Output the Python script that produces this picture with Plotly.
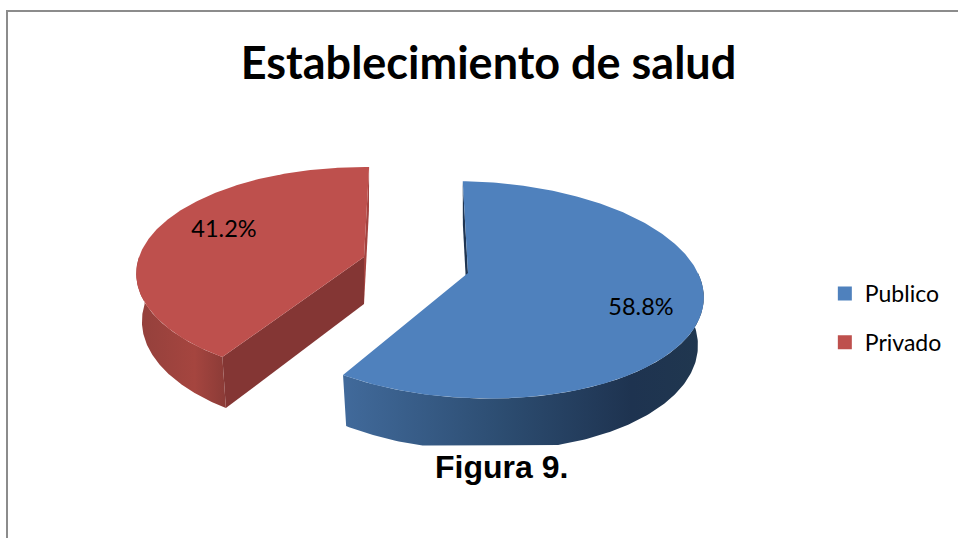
import numpy as np
import plotly.graph_objects as go

categories = ["Publico", "Privado"]
values = [58.8, 41.2]
labels = ["58.8%", "41.2%"]
title_text = "Establecimiento de salud"
caption_text = "Figura 9."

W, H = 958, 538
BLUE, RED = "#4F81BD", "#BE504D"
K = 0.156   # perspective of the pie disc
DEPTH, SX, SY = 47.0, 0.975, 1.04
CLIP_Y = 445.5
START = 1.5

slices = [
    dict(tip=(468, 273), shift=3.0, A=227.0, B=106.0, shear=-15.5, color=BLUE, cut_first="#1F3552", cut_last="#1F3552",
         wall=[[0, "#416A9B"], [0.45, "#2C4C70"], [0.8, "#1E3350"], [1, "#20374F"]], label_at=(641, 309)),
    dict(tip=(364, 257), shift=0.0, A=225.0, B=104.0, shear=0.0, color=RED, cut_first="#843634", cut_last="#A4433F",
         wall=[[0, "#93403C"], [0.65, "#A5453F"], [1, "#8B3B37"]], label_at=(224, 231)),
]


def rim(s, deg):
    t = np.radians(deg)
    X, Y = np.sin(t), np.cos(t)
    d = 1 + K * Y
    return s["tip"][0] + s["shift"] + (s["A"] * X + s["shear"] * Y) / d, s["tip"][1] - s["B"] * Y / d


def lower(s, x, y):
    return s["tip"][0] + (x - s["tip"][0]) * SX, s["tip"][1] + DEPTH + (y - s["tip"][1]) * SY


def poly(fig, x, y, **kw):
    x, y = list(x), list(np.minimum(y, CLIP_Y))
    fig.add_trace(go.Scatter(x=x + [x[0]], y=y + [y[0]], mode="lines", fill="toself", line=dict(width=0),
                             hoverinfo="skip", showlegend=False, **kw))


fig = go.Figure()
angle = START
total = sum(values)
for s, v in zip(slices, values):
    sweep = v / total * 360
    a0, a1 = angle, angle + sweep
    angle = a1
    tx, ty = s["tip"]
    ltx, lty = lower(s, tx, ty)
    # far cut wall, then near cut wall
    x1, y1 = rim(s, a1)
    lx1, ly1 = lower(s, x1, y1)
    x0, y0 = rim(s, a0)
    lx0, ly0 = lower(s, x0, y0)
    if s["color"] == RED:
        poly(fig, [x1, lx1, ltx, tx], [y1, ly1, lty, ty], fillcolor=s["cut_last"])
        poly(fig, [x0, lx0, ltx, tx], [y0, ly0, lty, ty], fillcolor=s["cut_first"])
    else:
        poly(fig, [x0, lx0, ltx, tx], [y0, ly0, lty, ty], fillcolor=s["cut_first"])
    # outer wall: the part of the rim that faces the viewer
    th = np.linspace(max(a0, 90), min(a1, 270), 160)
    xs, ys = rim(s, th)
    lxs, lys = lower(s, xs, ys)
    poly(fig, np.concatenate([xs, lxs[::-1]]), np.concatenate([ys, lys[::-1]]),
         fillgradient=dict(type="horizontal", colorscale=s["wall"]), fillcolor=s["color"])
    # top face
    th = np.linspace(a0, a1, 240)
    xs, ys = rim(s, th)
    poly(fig, np.concatenate([[tx], xs]), np.concatenate([[ty], ys]), fillcolor=s["color"])

for s, lab in zip(slices, labels):
    fig.add_trace(go.Scatter(x=[s["label_at"][0]], y=[s["label_at"][1]], mode="text", text=[lab],
                             textfont=dict(family="Lato", size=23.5, color="#000000"),
                             hoverinfo="skip", showlegend=False))

for name, s in zip(categories, slices):
    fig.add_trace(go.Scatter(x=[None], y=[None], mode="markers", name=name, legendgroup=name,
                             marker=dict(symbol="square", size=14, color=s["color"])))

fig.update_layout(
    width=W, height=H, autosize=False,
    margin=dict(l=0, r=0, t=0, b=0),
    paper_bgcolor="white", plot_bgcolor="white",
    xaxis=dict(range=[0, W], visible=False, fixedrange=True),
    yaxis=dict(range=[H, 0], visible=False, fixedrange=True),
    title=dict(text="<b>%s</b>" % title_text, x=488.5 / W, xanchor="center", y=1 - 63 / H, yanchor="middle",
               font=dict(family="Lato", size=45, color="#000000")),
    legend=dict(x=0.861, xanchor="left", y=1 - 318 / H, yanchor="middle", traceorder="grouped",
                tracegroupgap=16, font=dict(family="Lato", size=23, color="#000000"),
                bgcolor="rgba(0,0,0,0)", itemclick=False, itemdoubleclick=False),
    annotations=[dict(text="<b>%s</b>" % caption_text, x=501, y=467, xref="x", yref="y", showarrow=False,
                      font=dict(family="Liberation Sans", size=32, color="#000000"))],
    shapes=[dict(type="path", path="M 7 %d L 7 11 L %d 11" % (H + 5, W + 5), xref="x", yref="y",
                 line=dict(color="#8C8C8C", width=2))],
)
fig.write_html("out.html", config={"displayModeBar": False},
               post_script="document.body.style.margin='0';document.documentElement.style.overflow='hidden';")
